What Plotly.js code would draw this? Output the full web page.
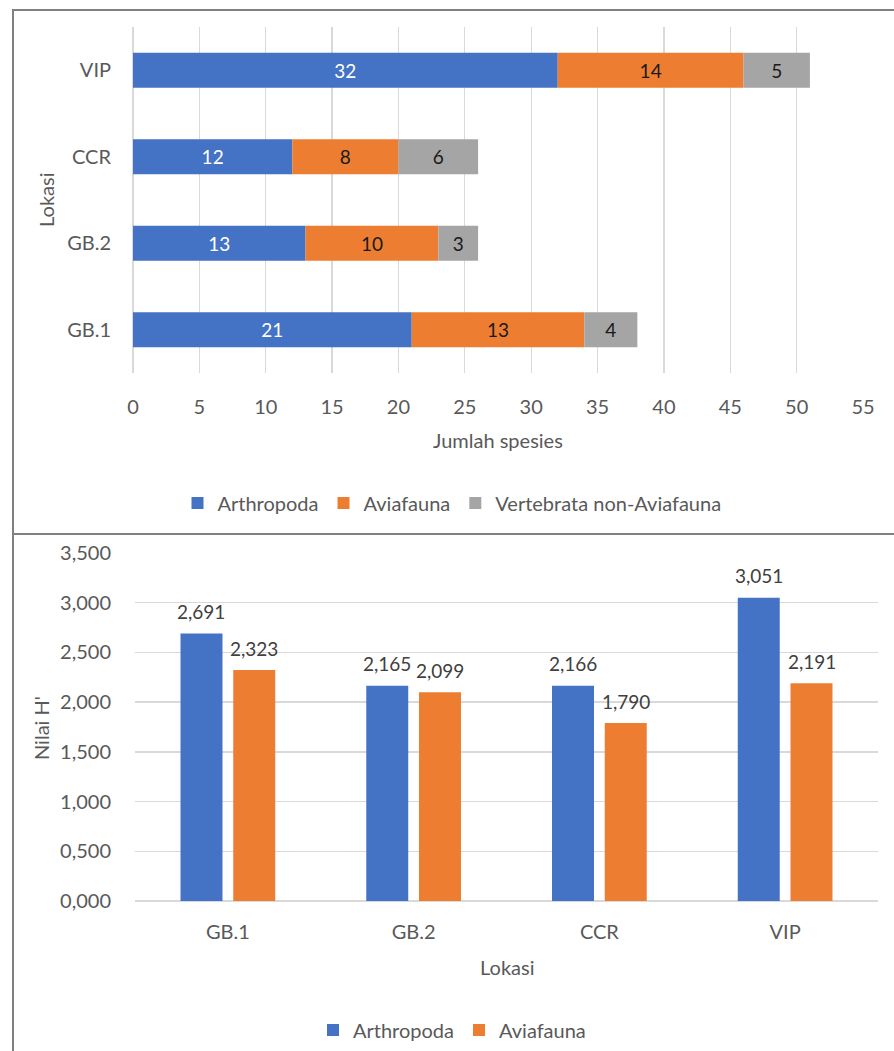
<!DOCTYPE html>
<html>
<head>
<meta charset="utf-8">
<script src="https://cdn.plot.ly/plotly-3.0.1.min.js"></script>
<style>html,body{margin:0;padding:0;background:#fff;}#chart{width:894px;height:1051px;}</style>
</head>
<body>
<div id="chart"></div>
<script>
// ---- data ----
var lokasi = ['GB.1', 'GB.2', 'CCR', 'VIP'];
var arthropodaCount = [21, 13, 12, 32];
var aviafaunaCount = [13, 10, 8, 14];
var vertebrataCount = [4, 3, 6, 5];
var hArthropoda = [2.691, 2.165, 2.166, 3.051];
var hAviafauna = [2.323, 2.099, 1.790, 2.191];
var seriesNames = ['Arthropoda', 'Aviafauna', 'Vertebrata non-Aviafauna'];
var xTitleTop = 'Jumlah spesies';
var yTitleTop = 'Lokasi';
var xTitleBottom = 'Lokasi';
var yTitleBottom = "Nilai H'";

// ---- styling ----
var W = 894, H = 1051;
var FONT = 'Lato, "Open Sans", sans-serif';
var BLUE = '#4472C4', ORANGE = '#ED7D31', GRAY = '#A5A5A5';
var TICK = '#595959', LABEL = '#404040', GRID = '#D9D9D9';
function px(x) { return x / W; }
function py(y) { return 1 - y / H; }

var base2 = arthropodaCount.slice();
var base3 = arthropodaCount.map(function (v, i) { return v + aviafaunaCount[i]; });

var topW = 0.405;
var traces = [
  {type: 'bar', orientation: 'h', name: seriesNames[0], y: lokasi, x: arthropodaCount,
   xaxis: 'x', yaxis: 'y', legend: 'legend', width: topW, offset: -topW / 2,
   marker: {color: BLUE}, text: arthropodaCount.map(String), textposition: 'inside',
   insidetextanchor: 'middle', textangle: 0, constraintext: 'none',
   textfont: {color: '#FFFFFF', size: 19, family: FONT}, hoverinfo: 'x+y'},
  {type: 'bar', orientation: 'h', name: seriesNames[1], y: lokasi, x: aviafaunaCount, base: base2,
   xaxis: 'x', yaxis: 'y', legend: 'legend', width: topW, offset: -topW / 2,
   marker: {color: ORANGE}, text: aviafaunaCount.map(String), textposition: 'inside',
   insidetextanchor: 'middle', textangle: 0, constraintext: 'none',
   textfont: {color: '#1a1a1a', size: 19, family: FONT}, hoverinfo: 'x+y'},
  {type: 'bar', orientation: 'h', name: seriesNames[2], y: lokasi, x: vertebrataCount, base: base3,
   xaxis: 'x', yaxis: 'y', legend: 'legend', width: topW, offset: -topW / 2,
   marker: {color: GRAY}, text: vertebrataCount.map(String), textposition: 'inside',
   insidetextanchor: 'middle', textangle: 0, constraintext: 'none',
   textfont: {color: '#1a1a1a', size: 19, family: FONT}, hoverinfo: 'x+y'},
  {type: 'bar', name: seriesNames[0], x: lokasi, y: hArthropoda,
   xaxis: 'x2', yaxis: 'y2', legend: 'legend2', width: 0.226, offset: -0.255,
   marker: {color: BLUE}},
  {type: 'bar', name: seriesNames[1], x: lokasi, y: hAviafauna,
   xaxis: 'x2', yaxis: 'y2', legend: 'legend2', width: 0.226, offset: 0.029,
   marker: {color: ORANGE}}
];

function fmt(v) { return v.toFixed(3).replace('.', ','); }

var annotations = [];
lokasi.forEach(function (c, i) {
  annotations.push({xref: 'x2', yref: 'y2', x: c, y: hArthropoda[i], text: fmt(hArthropoda[i]),
    showarrow: false, xshift: -26.5, yshift: 22, yanchor: 'middle',
    font: {family: FONT, size: 19, color: LABEL}});
  annotations.push({xref: 'x2', yref: 'y2', x: c, y: hAviafauna[i], text: fmt(hAviafauna[i]),
    showarrow: false, xshift: 26.5, yshift: 22, yanchor: 'middle',
    font: {family: FONT, size: 19, color: LABEL}});
});
// axis titles
annotations.push({xref: 'paper', yref: 'paper', x: px(498), y: py(440), text: xTitleTop, showarrow: false,
  xanchor: 'center', yanchor: 'middle', font: {family: FONT, size: 20, color: TICK}});
annotations.push({xref: 'paper', yref: 'paper', x: px(46), y: py(200), text: yTitleTop, showarrow: false,
  textangle: -90, xanchor: 'center', yanchor: 'middle', font: {family: FONT, size: 20, color: TICK}});
annotations.push({xref: 'paper', yref: 'paper', x: px(507), y: py(967), text: xTitleBottom, showarrow: false,
  xanchor: 'center', yanchor: 'middle', font: {family: FONT, size: 20, color: TICK}});
annotations.push({xref: 'paper', yref: 'paper', x: px(41), y: py(728), text: yTitleBottom, showarrow: false,
  textangle: -90, xanchor: 'center', yanchor: 'middle', font: {family: FONT, size: 20, color: TICK}});

var borderColor = '#808080';
var shapes = [
  {type: 'rect', xref: 'paper', yref: 'paper', x0: px(13), x1: px(W + 5), y0: py(534), y1: py(10),
   line: {color: borderColor, width: 2}},
  {type: 'line', xref: 'paper', yref: 'paper', x0: px(13), x1: px(13), y0: py(534), y1: py(H + 5),
   line: {color: borderColor, width: 2}}
];

var layout = {
  width: W, height: H,
  margin: {l: 0, r: 0, t: 0, b: 0},
  paper_bgcolor: '#FFFFFF', plot_bgcolor: '#FFFFFF',
  font: {family: FONT, size: 20, color: TICK},
  separators: ',.',
  barmode: 'group',
  showlegend: true,
  xaxis: {domain: [px(133), px(863)], anchor: 'y', range: [0, 55], dtick: 5, tick0: 0,
    showgrid: true, gridcolor: GRID, gridwidth: 1.3, zeroline: true, zerolinecolor: GRID, zerolinewidth: 1.3,
    showline: false, ticks: 'outside', ticklen: 16, tickcolor: 'rgba(0,0,0,0)',
    tickfont: {family: FONT, size: 20, color: TICK}, fixedrange: true},
  yaxis: {domain: [py(373), py(27)], anchor: 'x', type: 'category', categoryorder: 'array',
    categoryarray: lokasi, range: [-0.5, 3.5], showgrid: false, zeroline: false, showline: false,
    ticks: 'outside', ticklen: 17, tickcolor: 'rgba(0,0,0,0)',
    tickfont: {family: FONT, size: 20, color: TICK}, fixedrange: true},
  xaxis2: {domain: [px(135), px(878)], anchor: 'y2', type: 'category', categoryorder: 'array',
    categoryarray: lokasi, range: [-0.5, 3.5], showgrid: false, zeroline: false, showline: false,
    ticks: 'outside', ticklen: 13, tickcolor: 'rgba(0,0,0,0)',
    tickfont: {family: FONT, size: 20, color: TICK}, fixedrange: true},
  yaxis2: {domain: [py(901), py(553)], anchor: 'x2', range: [0, 3.5], dtick: 0.5, tick0: 0,
    tickformat: '.3f', showgrid: true, gridcolor: GRID, gridwidth: 1.3,
    zeroline: true, zerolinecolor: GRID, zerolinewidth: 1.3, showline: false,
    ticks: 'outside', ticklen: 19, tickcolor: 'rgba(0,0,0,0)',
    tickfont: {family: FONT, size: 20, color: TICK}, fixedrange: true},
  legend: {orientation: 'h', x: px(452), xanchor: 'center', y: py(503), yanchor: 'middle',
    font: {family: FONT, size: 20, color: TICK}, itemwidth: 30, bgcolor: 'rgba(0,0,0,0)',
    traceorder: 'normal', itemclick: false},
  legend2: {orientation: 'h', x: px(452), xanchor: 'center', y: py(1030), yanchor: 'middle',
    font: {family: FONT, size: 20, color: TICK}, itemwidth: 30, bgcolor: 'rgba(0,0,0,0)',
    traceorder: 'normal', itemclick: false},
  annotations: annotations,
  shapes: shapes
};

Plotly.newPlot('chart', traces, layout, {staticPlot: true, displayModeBar: false});
</script>
</body>
</html>
